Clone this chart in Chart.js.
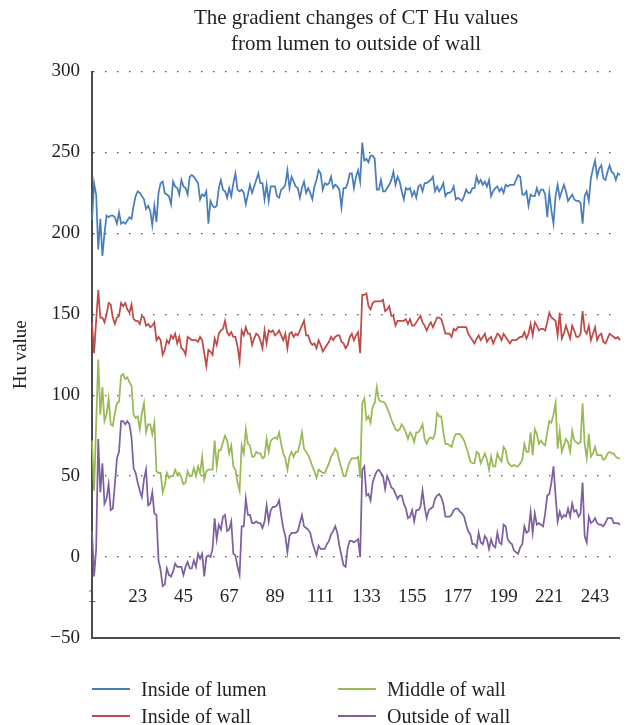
<!DOCTYPE html>
<html>
<head>
<meta charset="utf-8">
<script src="https://cdn.jsdelivr.net/npm/chart.js@4.4.1/dist/chart.umd.min.js"></script>
<style>
  body { margin: 0; background: #fff; }
  #wrap { position: relative; width: 631px; height: 725px; }
  #legend .item { position: absolute; display: flex; align-items: center; height: 24px;
    font: 20px "Liberation Serif", "Times New Roman", serif; color: #231f20; white-space: nowrap; }
  #legend .swatch { width: 38px; height: 2px; margin-right: 11px; }
</style>
</head>
<body>
<div id="wrap">
  <canvas id="canvas" width="631" height="725"></canvas>
  <div id="legend"></div>
</div>
<script>
var titleLines = ['The gradient changes of CT Hu values', 'from lumen to outside of wall'];
var seriesNames = ['Inside of lumen', 'Inside of wall', 'Middle of wall', 'Outside of wall'];
var tickStep = 22;

var lumen = [
    208,231,224,190,209,186,200,211,210,211,211,210,206,213,206,207,206,208,210,209,
    217,223,226,225,223,221,215,217,214,205,217,207,225,231,232,225,224,223,218,232,
    229,228,224,233,229,228,224,235,236,235,233,231,221,224,223,226,206,220,217,216,
    217,228,233,227,226,222,228,223,231,237,227,226,227,225,218,224,230,225,229,233,
    237,231,231,221,230,220,229,229,229,223,222,227,228,230,239,228,235,232,229,228,
    222,228,232,225,228,225,221,229,233,239,237,227,231,230,231,235,228,230,229,227,
    216,228,228,231,237,237,228,235,239,232,256,245,246,244,248,248,246,227,227,233,
    226,226,228,230,233,238,230,235,232,226,221,228,227,228,223,226,222,229,230,226,
    231,231,232,233,235,226,229,226,228,231,223,225,225,226,229,221,222,221,220,223,
    227,225,225,228,228,235,231,233,230,232,229,233,223,226,228,229,226,228,225,230,
    229,230,230,230,233,236,235,224,224,226,217,224,223,223,228,224,227,227,224,210,
    225,214,206,223,230,222,226,230,226,220,222,224,221,220,220,219,206,223,226,220,
    234,240,245,235,240,242,234,233,238,242,238,237,233,237,236
];
var insideWall = [
    145,126,146,165,148,148,145,150,157,156,148,144,148,149,157,155,157,153,151,156,
    147,146,146,144,149,148,143,144,142,143,145,134,136,134,125,128,134,132,137,135,
    138,132,136,129,128,125,136,135,134,134,134,133,136,134,126,118,128,127,125,135,
    131,138,140,141,146,139,137,139,136,136,130,121,140,137,142,138,138,131,135,138,
    137,134,129,140,132,140,139,140,137,138,140,137,134,138,129,138,139,136,138,137,
    140,143,146,137,137,133,131,132,129,134,131,127,129,131,133,136,134,136,137,137,
    133,132,129,131,136,138,134,137,139,126,162,162,163,155,153,157,158,158,158,158,
    159,152,153,155,149,149,143,146,146,146,146,147,144,147,143,143,145,147,149,145,
    143,140,143,145,142,145,148,148,147,143,138,138,138,136,141,140,142,142,142,142,
    142,138,136,134,132,135,137,134,136,138,133,135,136,132,135,138,137,134,138,136,
    134,132,134,134,134,135,136,136,139,135,138,144,137,145,143,140,141,141,140,145,
    151,148,147,146,137,151,135,138,143,139,135,143,140,136,136,138,152,140,138,143,
    134,138,142,134,137,138,133,132,135,138,137,136,135,136,134
];
var middleWall = [
    72,41,82,122,88,105,84,88,98,82,81,89,95,96,112,113,110,111,108,106,
    88,86,87,79,89,95,77,82,82,76,83,53,52,52,40,44,52,49,50,50,
    54,51,52,49,45,46,53,50,50,55,50,56,52,62,48,53,54,54,54,72,
    56,66,66,71,75,72,64,69,56,54,46,41,69,64,79,70,69,62,62,65,
    64,64,61,62,73,65,72,73,74,73,77,70,64,61,54,62,65,62,65,65,
    70,77,67,65,63,60,56,53,49,54,53,52,52,55,58,62,64,67,65,59,
    55,50,50,55,59,61,61,61,62,49,95,98,85,87,83,93,95,105,97,96,
    96,95,92,89,85,82,79,78,79,82,80,77,73,77,75,71,77,77,79,82,
    73,70,73,74,73,76,89,87,87,77,70,70,69,68,73,76,76,76,74,72,
    68,64,59,58,58,65,64,58,61,64,60,54,62,56,56,64,61,59,68,66,
    59,57,56,57,56,56,58,60,70,65,65,77,63,79,76,70,72,70,69,77,
    84,83,88,95,67,78,65,69,73,71,65,78,72,71,70,71,95,70,61,76,
    62,64,68,63,63,63,60,61,64,65,64,64,62,61,61
];
var outsideWall = [
    16,-12,5,73,40,58,33,36,45,29,30,45,61,65,84,84,82,84,82,74,
    55,52,46,41,37,48,54,32,33,40,27,26,-2,-8,-18,-17,-7,-11,-12,-9,
    -4,-6,-6,-6,-11,-6,-3,-7,-7,-2,-6,2,-1,2,-12,0,1,0,5,24,
    11,20,17,25,26,16,17,22,2,1,-6,-11,19,19,36,26,26,21,21,22,
    21,21,18,22,32,22,29,31,31,32,35,26,18,13,3,13,15,15,15,16,
    21,26,19,18,17,15,9,5,1,7,5,5,5,8,10,14,16,19,15,7,
    1,-5,-6,6,10,10,9,10,11,0,54,56,38,39,35,46,50,53,54,52,
    50,42,50,47,43,42,39,36,38,38,33,30,24,25,29,22,29,29,31,41,
    31,24,29,30,31,36,38,39,37,33,25,25,25,26,29,30,30,28,27,25,
    20,16,14,8,8,6,15,9,8,13,11,5,11,7,6,15,9,8,20,19,
    11,9,8,4,3,2,6,8,19,15,16,28,15,27,20,21,20,19,27,38,
    39,46,56,38,22,28,24,26,25,30,25,33,28,29,25,27,46,13,9,25,
    21,22,24,21,20,20,19,21,24,24,24,21,21,21,20
];

var categories = [];
for (var n = 1; n <= lumen.length; n++) categories.push(String(n));

var serif = '"Liberation Serif", "Times New Roman", serif';
Chart.defaults.font.family = serif;
Chart.defaults.color = '#231f20';

var colors = ['#4a7ebb', '#be4b48', '#98b954', '#7d60a0'];
var values = [lumen, insideWall, middleWall, outsideWall];

var isBottom = function(ctx) { return ctx.tick && ctx.tick.value === -50; };

var ctx = document.getElementById('canvas').getContext('2d');
var myChart = new Chart(ctx, {
    type: 'line',
    data: {
        labels: categories,
        datasets: values.map(function(v, i) {
            return { label: seriesNames[i], data: v, borderColor: colors[i], backgroundColor: colors[i] };
        })
    },
    options: {
        responsive: false,
        animation: false,
        layout: { padding: { left: 6, right: 11, top: 0, bottom: 87 } },
        elements: {
            point: { radius: 0 },
            line: { borderWidth: 1.75, tension: 0 }
        },
        plugins: {
            legend: { display: false },
            tooltip: { enabled: false },
            title: {
                display: true,
                text: titleLines,
                fullSize: false,
                color: '#231f20',
                font: { size: 21, weight: 'normal', lineHeight: 1.25 },
                padding: { top: 5, bottom: 14 }
            }
        },
        scales: {
            x: {
                // category labels sit a little below the zero line, as in the figure
                position: { y: -16 },
                offset: false,
                grid: { display: false, drawTicks: false },
                border: { display: false },
                ticks: {
                    autoSkip: false, maxRotation: 0, minRotation: 0,
                    padding: 3,
                    font: { size: 19 },
                    callback: function(v, i) { return i % tickStep === 0 ? categories[i] : ''; }
                }
            },
            y: {
                min: -50,
                max: 300,
                afterFit: function(scale) { scale.width = 86; },
                ticks: {
                    stepSize: 50,
                    padding: 12,
                    font: { size: 19 },
                    callback: function(v) { return v < 0 ? '\u2212' + Math.abs(v) : v; }
                },
                grid: {
                    drawTicks: false,
                    color: function(c) { return isBottom(c) ? '#4d4d4d' : '#555'; },
                    lineWidth: function(c) { return isBottom(c) ? 2 : 1.3; }
                },
                border: {
                    display: true, color: '#4d4d4d', width: 2,
                    dash: function(c) { return isBottom(c) ? [] : [1.5, 10.5]; }
                },
                title: { display: true, text: 'Hu value', font: { size: 19 }, padding: { top: 4, bottom: 0 } }
            }
        }
    }
});

// legend in two columns, as in the figure
var legendEl = document.getElementById('legend');
myChart.data.datasets.forEach(function(ds, i) {
    var item = document.createElement('div');
    item.className = 'item';
    item.style.left = (i < 2 ? 92 : 338) + 'px';
    item.style.top = (i % 2 === 0 ? 677 : 704) + 'px';
    var sw = document.createElement('span');
    sw.className = 'swatch';
    sw.style.background = ds.borderColor;
    item.appendChild(sw);
    item.appendChild(document.createTextNode(ds.label));
    legendEl.appendChild(item);
});
</script>
</body>
</html>
